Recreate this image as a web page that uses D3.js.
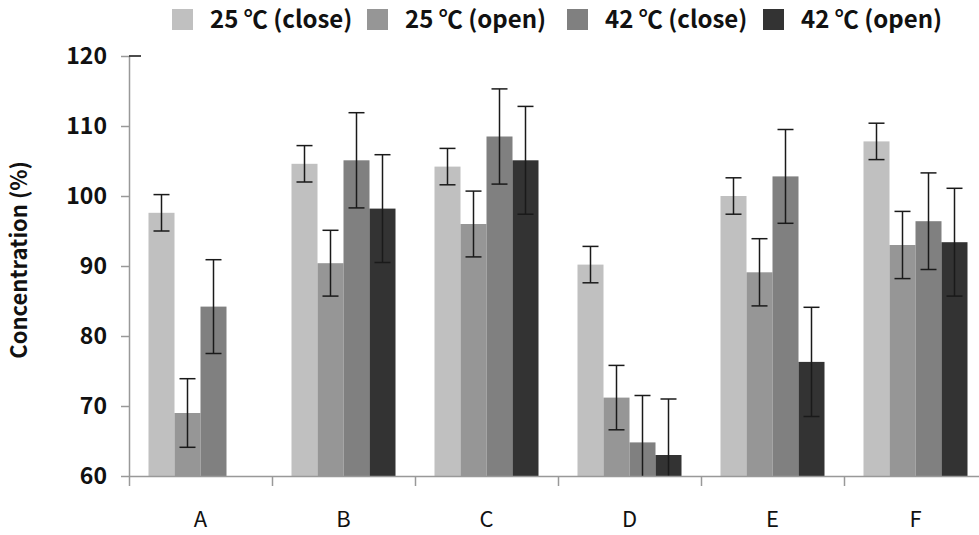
<!DOCTYPE html>
<html lang="en">
<head>
<meta charset="UTF-8">
<title>Concentration</title>
<script src="https://d3js.org/d3.v7.min.js"></script>
<style>
    body { margin: 0; background: #fff; }
    svg { display: block; }
    text { font-family: "Noto Sans CJK KR", "Noto Sans", sans-serif; fill: #111; }
    .ytick text { font-size: 23px; font-weight: bold; }
    .cat { font-size: 22px; }
    .legend text { font-size: 24px; font-weight: bold; }
    .ytitle { font-size: 22px; font-weight: bold; }
</style>
</head>
<body>
<svg width="979" height="535"></svg>
<script>
    // values
    var categories = ["A", "B", "C", "D", "E", "F"];
    var seriesNames = ["25 \u2103 (close)", "25 \u2103 (open)", "42 \u2103 (close)", "42 \u2103 (open)"];
    var colors = ["#c0c0c0", "#969696", "#808080", "#333333"];

    var close25 = [97.6, 104.6, 104.2, 90.2, 100.0, 107.8];
    var open25 = [69.0, 90.4, 96.0, 71.2, 89.1, 93.0];
    var close42 = [84.2, 105.1, 108.5, 64.8, 102.8, 96.4];
    var open42 = [null, 98.2, 105.1, 63.0, 76.3, 93.4];

    var errClose25 = [2.6, 2.6, 2.6, 2.6, 2.6, 2.6];
    var errOpen25 = [4.9, 4.7, 4.7, 4.6, 4.8, 4.8];
    var errClose42 = [6.7, 6.8, 6.8, 6.7, 6.7, 6.9];
    var errOpen42 = [null, 7.7, 7.7, 8.0, 7.8, 7.7];

    var yTicks = [60, 70, 80, 90, 100, 110, 120];

    var values = [close25, open25, close42, open42];
    var errors = [errClose25, errOpen25, errClose42, errOpen42];

    var rows = [];
    categories.forEach((c, i) => {
        seriesNames.forEach((s, j) => {
            if (values[j][i] != null) rows.push({ cat: c, series: s, idx: j, v: values[j][i], e: errors[j][i] });
        });
    });

    var svg = d3.select("svg");
    var m = { left: 129, right: 987, top: 56, bottom: 476 };

    var x = d3.scaleBand().domain(categories).range([m.left, m.right]);
    var xInner = d3.scaleBand().domain(seriesNames).range([0, x.bandwidth()]).paddingOuter(0.75);
    var y = d3.scaleLinear().domain([60, 120]).range([m.bottom, m.top]);

    svg.append("defs").append("clipPath").attr("id", "plot")
        .append("rect").attr("x", m.left).attr("y", m.top - 20).attr("width", m.right - m.left).attr("height", m.bottom - m.top + 20);

    var plot = svg.append("g").attr("clip-path", "url(#plot)");

    plot.selectAll("rect.bar")
        .data(rows)
        .enter()
        .append("rect")
        .attr("class", "bar")
        .attr("x", d => x(d.cat) + xInner(d.series))
        .attr("width", xInner.bandwidth())
        .attr("y", d => y(d.v))
        .attr("height", d => y(60) - y(d.v))
        .attr("fill", d => colors[d.idx]);

    // error bars
    var eb = plot.selectAll("g.err")
        .data(rows)
        .enter()
        .append("g")
        .attr("class", "err")
        .attr("transform", d => "translate(" + (x(d.cat) + xInner(d.series) + xInner.bandwidth() / 2) + ",0)")
        .attr("stroke", "#1a1a1a")
        .attr("stroke-width", 1.5);
    eb.append("line").attr("y1", d => y(d.v + d.e)).attr("y2", d => y(d.v - d.e));
    eb.append("line").attr("x1", -8).attr("x2", 8).attr("y1", d => y(d.v + d.e)).attr("y2", d => y(d.v + d.e));
    eb.append("line").attr("x1", -8).attr("x2", 8).attr("y1", d => y(d.v - d.e)).attr("y2", d => y(d.v - d.e));

    // y axis
    var yAxis = d3.axisLeft(y).tickValues(yTicks).tickSize(8).tickPadding(14).tickSizeOuter(0);
    var yG = svg.append("g").attr("class", "ytick").attr("transform", "translate(" + m.left + ",0)").call(yAxis);
    yG.select(".domain").attr("stroke", "#999").attr("stroke-width", 1.5);
    yG.selectAll(".tick line").attr("stroke", "#999").attr("stroke-width", 1.5);
    yG.selectAll(".tick text").attr("fill", "#111");
    svg.append("line").attr("x1", m.left).attr("x2", m.left + 12).attr("y1", y(120)).attr("y2", y(120))
        .attr("stroke", "#111").attr("stroke-width", 1.5);

    // x axis: ticks at group boundaries, labels at centres
    var xb = d3.scaleLinear().domain([0, categories.length]).range([m.left, m.right]);
    var xAxis = d3.axisBottom(xb).tickValues(d3.range(categories.length + 1)).tickSize(10).tickFormat("").tickSizeOuter(0);
    var xG = svg.append("g").attr("transform", "translate(0," + m.bottom + ")").call(xAxis);
    xG.select(".domain").attr("stroke", "#999").attr("stroke-width", 1.5);
    xG.selectAll(".tick line").attr("stroke", "#999").attr("stroke-width", 1.5);

    svg.selectAll("text.cat")
        .data(categories)
        .enter()
        .append("text")
        .attr("class", "cat")
        .attr("x", d => x(d) + x.bandwidth() / 2)
        .attr("y", 527)
        .attr("text-anchor", "middle")
        .text(d => d);

    svg.append("text")
        .attr("class", "ytitle")
        .attr("transform", "translate(27,260) rotate(-90)")
        .attr("text-anchor", "middle")
        .text("Concentration (%)");

    // legend
    var legendX = [172, 367, 567, 763];
    var lg = svg.append("g").attr("class", "legend");
    seriesNames.forEach((s, j) => {
        lg.append("rect").attr("x", legendX[j]).attr("y", 9).attr("width", 21).attr("height", 21).attr("fill", colors[j]);
        lg.append("text").attr("x", legendX[j] + 38).attr("y", 28).text(s);
    });
</script>
</body>
</html>
